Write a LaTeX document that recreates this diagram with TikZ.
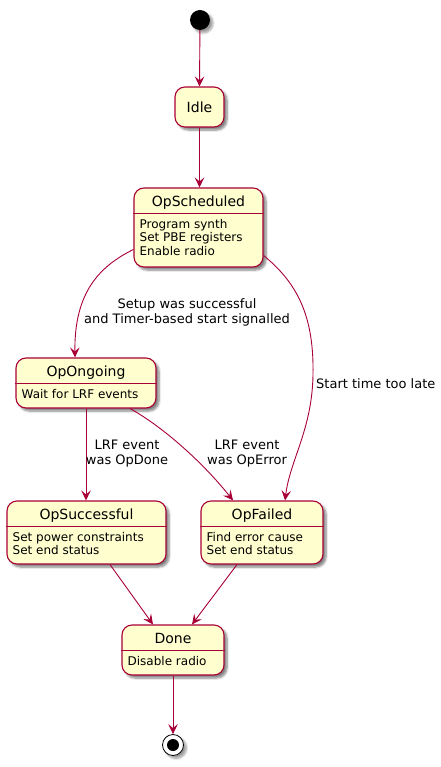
\documentclass[tikz,border=0pt]{standalone}
\usepackage{fontspec}
\setmainfont{DejaVu Sans}
\usetikzlibrary{arrows.meta,shadows.blur}
\definecolor{umlborder}{HTML}{A80036}
\definecolor{umlfill}{HTML}{FEFECE}

\begin{document}
\begin{tikzpicture}[x=1pt,y=1pt]
    \tikzstyle{every node}+=[inner sep=0pt]
    \tikzstyle{statebox}=[draw=umlborder, fill=umlfill, line width=1.1pt, rounded corners=10pt,
        blur shadow={shadow xshift=3pt, shadow yshift=-3pt, shadow blur steps=6, shadow opacity=50}]
    \tikzstyle{statetitle}=[font=\fontsize{14}{16}\selectfont, anchor=base]
    \tikzstyle{statebody}=[font=\fontsize{12}{13.5}\selectfont, align=left, anchor=base west]
    \tikzstyle{trans}=[draw=umlborder, line width=0.9pt, -{Stealth[length=10pt,width=9.5pt,inset=4pt]}]
    \tikzstyle{translabel}=[font=\fontsize{13}{15}\selectfont, align=center]
    \useasboundingbox (0,0) rectangle (440,-767);
    % start and end
    \node [circle, fill=black, minimum size=20pt, blur shadow={shadow xshift=3pt, shadow yshift=-3pt, shadow blur steps=6}] (start) at (200,-20) {};
    \node [circle, draw=black, fill=white, line width=0.8pt, minimum size=21pt, blur shadow={shadow xshift=3pt, shadow yshift=-3pt, shadow blur steps=6}] (stop) at (173,-745) {};
    \node [circle, fill=black, minimum size=12pt] (stopdot) at (stop.center) {};
    % states (body node sits on the baseline of its last line)
    \node [statebox, minimum width=49pt, minimum height=40pt, font=\fontsize{14}{16}\selectfont] (idle) at (199.5,-107) {Idle};
    \node [statebox, minimum width=129pt, minimum height=79pt] (sched) at (198.5,-227.5) {};
    \node [statetitle] (schedT) at ([yshift=-19pt]sched.north) {OpScheduled};
    \draw [umlborder, line width=1.1pt] ([yshift=-26pt]sched.north west) -- ([yshift=-26pt]sched.north east);
    \node [statebody] (schedB) at ([xshift=6pt,yshift=-68pt]sched.north west) {Program synth\\Set PBE registers\\Enable radio};
    \node [statebox, minimum width=140pt, minimum height=50pt] (ongoing) at (86,-383) {};
    \node [statetitle] (ongoingT) at ([yshift=-19pt]ongoing.north) {OpOngoing};
    \draw [umlborder, line width=1.1pt] ([yshift=-26pt]ongoing.north west) -- ([yshift=-26pt]ongoing.north east);
    \node [statebody] (ongoingB) at ([xshift=6pt,yshift=-41pt]ongoing.north west) {Wait for LRF events};
    \node [statebox, minimum width=159pt, minimum height=63pt] (succ) at (86.5,-532.5) {};
    \node [statetitle] (succT) at ([yshift=-19pt]succ.north) {OpSuccessful};
    \draw [umlborder, line width=1.1pt] ([yshift=-26pt]succ.north west) -- ([yshift=-26pt]succ.north east);
    \node [statebody] (succB) at ([xshift=6pt,yshift=-54.5pt]succ.north west) {Set power constraints\\Set end status};
    \node [statebox, minimum width=122pt, minimum height=63pt] (failed) at (262,-532.5) {};
    \node [statetitle] (failedT) at ([yshift=-19pt]failed.north) {OpFailed};
    \draw [umlborder, line width=1.1pt] ([yshift=-26pt]failed.north west) -- ([yshift=-26pt]failed.north east);
    \node [statebody] (failedB) at ([xshift=6pt,yshift=-54.5pt]failed.north west) {Find error cause\\Set end status};
    \node [statebox, minimum width=102pt, minimum height=50pt] (done) at (173,-650) {};
    \node [statetitle] (doneT) at ([yshift=-19pt]done.north) {Done};
    \draw [umlborder, line width=1.1pt] ([yshift=-26pt]done.north west) -- ([yshift=-26pt]done.north east);
    \node [statebody] (doneB) at ([xshift=6pt,yshift=-41pt]done.north west) {Disable radio};
    % transitions
    \draw [trans] (start) -- (idle.north);
    \draw [trans] (idle.south) -- (idle.south |- sched.north);
    \draw [trans] ([yshift=-22pt]sched.west) .. controls (100,-266) and (74,-292) .. (ongoing.north -| 75,0);
    \draw (187,-312) node [translabel] {Setup was successful\\and Timer-based start signalled};
    \draw [trans] ([yshift=-28pt]sched.east) .. controls (300,-285) and (314,-320) .. (313,-375)
        .. controls (312,-430) and (290,-460) .. ([xshift=23pt]failed.north);
    \draw (316,-384) node [translabel, anchor=west] {Start time too late};
    \draw [trans] (ongoing.south) -- (ongoing.south |- succ.north);
    \draw (127,-454) node [translabel] {LRF event\\was OpDone};
    \draw [trans] ([xshift=44pt]ongoing.south) .. controls (165,-428) and (205,-465) .. ([xshift=-29pt]failed.north);
    \draw (247,-454) node [translabel] {LRF event\\was OpError};
    \draw [trans] ([xshift=23.5pt]succ.south) -- ([xshift=-20pt]done.north);
    \draw [trans] ([xshift=-25pt]failed.south) -- ([xshift=19pt]done.north);
    \draw [trans] (done.south) -- (stop.north);
\end{tikzpicture}
\end{document}
